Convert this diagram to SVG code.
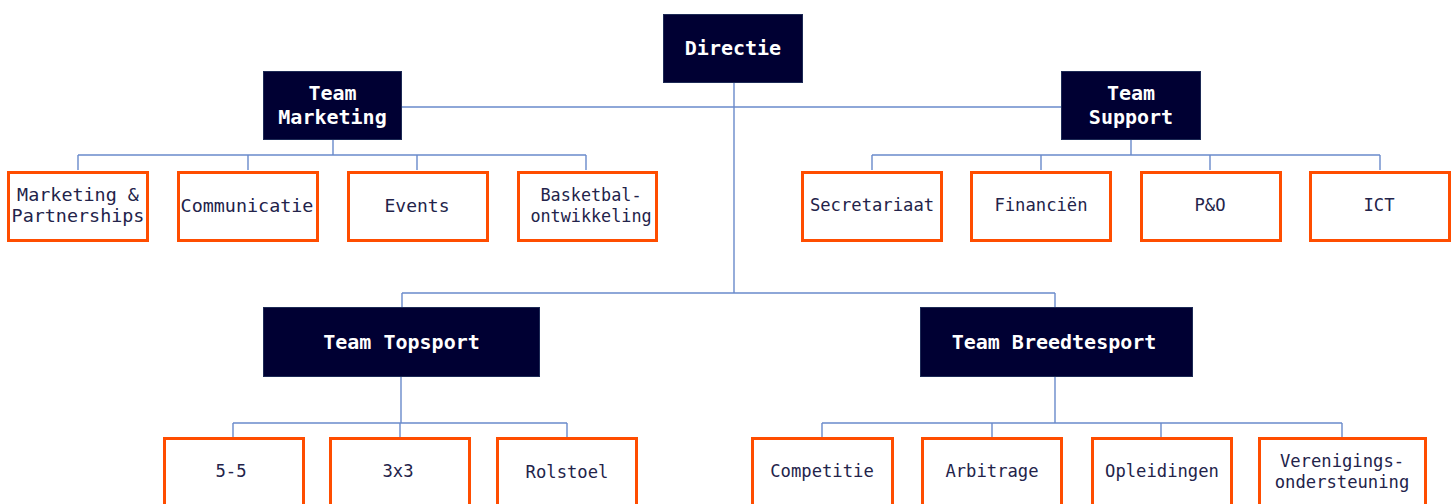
<svg xmlns="http://www.w3.org/2000/svg" width="1456" height="504" viewBox="0 0 1456 504">
<style>
.team{fill:#000033;stroke:#1d2a55;stroke-width:1}
.unit{fill:#ffffff;stroke:#ff4d00;stroke-width:3}
.tt{font-family:"DejaVu Sans Mono","Liberation Mono",monospace;font-size:20px;font-weight:bold;fill:#ffffff;text-anchor:middle}
.ut{font-family:"DejaVu Sans Mono","Liberation Mono",monospace;font-size:18.4px;fill:#23234a;text-anchor:middle}
.sm{font-size:17.2px}
.c{fill:none;stroke:#6a8acb;stroke-width:1.4}
</style>
<rect width="1456" height="504" fill="#ffffff"/>
<g id="connectors">
<path class="c" d="M734 83V293M402 107H1061M402 293H1055M402 293V307M1055 293V307"/>
<path class="c" d="M333 140V155M78 155H586M78 155V170M248 155V170M417 155V170M586 155V170"/>
<path class="c" d="M1131 140V155M872 155H1380M872 155V170M1041 155V170M1210 155V170M1380 155V170"/>
<path class="c" d="M401 377V423M233 423H567M233 423V437M400 423V437M567 423V437"/>
<path class="c" d="M1055 377V423M822 423H1342M822 423V437M992 423V437M1161 423V437M1342 423V437"/>
</g>
<g id="directie"><rect class="team" x="663.5" y="14.5" width="139" height="68"/><text class="tt" x="733" y="55">Directie</text></g>
<g id="team-marketing"><rect class="team" x="263.5" y="71.5" width="138" height="68"/><text class="tt" x="332.5" y="100">Team</text><text class="tt" x="332.5" y="124">Marketing</text></g>
<g id="team-support"><rect class="team" x="1061.5" y="71.5" width="139" height="68"/><text class="tt" x="1131" y="100">Team</text><text class="tt" x="1131" y="124">Support</text></g>
<g id="team-topsport"><rect class="team" x="263.5" y="307.5" width="276" height="69"/><text class="tt" x="401.5" y="349">Team Topsport</text></g>
<g id="team-breedtesport"><rect class="team" x="920.5" y="307.5" width="272" height="69"/><text class="tt" x="1054" y="349">Team Breedtesport</text></g>

<g id="marketing-partnerships"><rect class="unit" x="8.5" y="172.5" width="139" height="68"/><text class="ut" x="78" y="201">Marketing &amp;</text><text class="ut" x="78" y="222">Partnerships</text></g>
<g id="communicatie"><rect class="unit" x="178.5" y="172.5" width="139" height="68"/><text class="ut" x="247" y="212">Communicatie</text></g>
<g id="events"><rect class="unit" x="348.5" y="172.5" width="139" height="68"/><text class="ut" x="417" y="212" style="font-size:18px">Events</text></g>
<g id="basketbalontwikkeling"><rect class="unit" x="518.5" y="172.5" width="138" height="68"/><text class="ut" x="591" y="201" style="font-size:16.8px">Basketbal-</text><text class="ut" x="591" y="222" style="font-size:16.8px">ontwikkeling</text></g>

<g id="secretariaat"><rect class="unit" x="802.5" y="172.5" width="139" height="68"/><text class="ut sm" x="872" y="211">Secretariaat</text></g>
<g id="financien"><rect class="unit" x="971.5" y="172.5" width="139" height="68"/><text class="ut sm" x="1041" y="211">Financiën</text></g>
<g id="p-en-o"><rect class="unit" x="1141.5" y="172.5" width="139" height="68"/><text class="ut sm" x="1210" y="211">P&amp;O</text></g>
<g id="ict"><rect class="unit" x="1310.5" y="172.5" width="139" height="68"/><text class="ut sm" x="1379" y="211">ICT</text></g>

<g id="vijf-vijf"><rect class="unit" x="164.5" y="438.5" width="139" height="70"/><text class="ut sm" x="231" y="477">5-5</text></g>
<g id="drie-x-drie"><rect class="unit" x="330.5" y="438.5" width="139" height="70"/><text class="ut sm" x="398" y="477">3x3</text></g>
<g id="rolstoel"><rect class="unit" x="497.5" y="438.5" width="139" height="70"/><text class="ut sm" x="567" y="478">Rolstoel</text></g>

<g id="competitie"><rect class="unit" x="752.5" y="438.5" width="140" height="70"/><text class="ut sm" x="822" y="477">Competitie</text></g>
<g id="arbitrage"><rect class="unit" x="922.5" y="438.5" width="139" height="70"/><text class="ut sm" x="992" y="477">Arbitrage</text></g>
<g id="opleidingen"><rect class="unit" x="1092.5" y="438.5" width="139" height="70"/><text class="ut sm" x="1162" y="477">Opleidingen</text></g>
<g id="verenigingsondersteuning"><rect class="unit" x="1259.5" y="438.5" width="166" height="70"/><text class="ut sm" x="1342" y="467">Verenigings-</text><text class="ut sm" x="1342" y="488">ondersteuning</text></g>
</svg>
